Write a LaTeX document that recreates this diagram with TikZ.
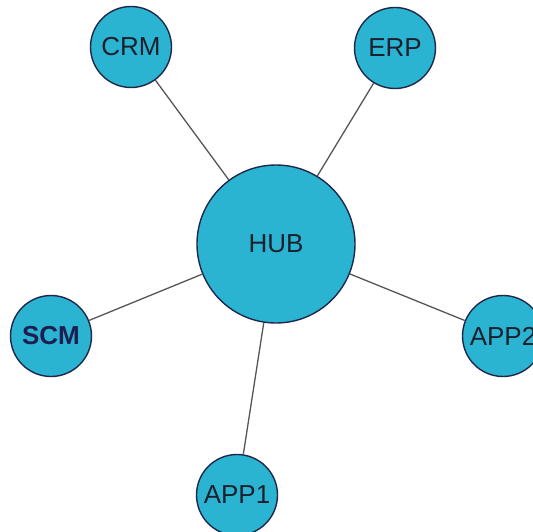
\documentclass[tikz,border=0pt]{standalone}
\usepackage{fontspec}
\setmainfont{Liberation Sans}
\definecolor{nodefill}{RGB}{42,180,210}
\definecolor{nodeline}{RGB}{30,40,75}
\definecolor{edgecol}{RGB}{85,85,90}
\definecolor{txt}{RGB}{28,32,45}
\definecolor{scmtxt}{RGB}{30,30,80}
\begin{document}
\begin{tikzpicture}[x=1pt,y=-1pt,
  sat/.style={circle,draw=nodeline,line width=1.4pt,fill=nodefill,minimum size=81pt,inner sep=0pt,
    font=\fontsize{26}{26}\selectfont,text=txt},
  hubnode/.style={sat,minimum size=158pt},
  edge/.style={draw=edgecol,line width=1.3pt}]
\useasboundingbox (0,0) rectangle (533,532);
\node[hubnode] (hub) at (276,244) {HUB};
\node[sat] (crm) at (131,47) {CRM};
\node[sat] (erp) at (395,48) {ERP};
\node[sat,text=scmtxt,font=\fontsize{26}{26}\selectfont\bfseries] (scm) at (51,336) {SCM};
\node[sat] (app2) at (503,336) {APP2};
\node[sat] (app1) at (237,495) {APP1};
\draw[edge] (hub) -- (crm);
\draw[edge] (hub) -- (erp);
\draw[edge] (hub) -- (scm);
\draw[edge] (hub) -- (app2);
\draw[edge] (hub) -- (app1);
\end{tikzpicture}
\end{document}
